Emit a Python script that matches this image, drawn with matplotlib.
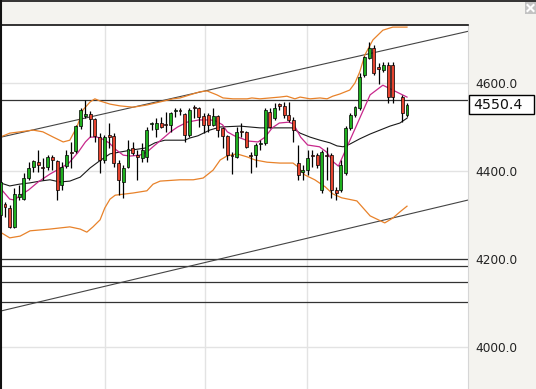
import matplotlib
matplotlib.use("Agg")
import matplotlib.pyplot as plt
from matplotlib.patches import Rectangle
from matplotlib.lines import Line2D
from matplotlib.ticker import FormatStrFormatter

# Daily candles (index -1 is cut by the left edge, index 83 is a missing day)
candle_idx = list(range(-1, 83)) + [84, 85]
opens = [4300, 4325, 4316, 4273, 4341, 4336, 4384, 4409, 4420, 4409,
         4409, 4432, 4423, 4368, 4411, 4443, 4445, 4502, 4525, 4530,
         4518, 4477, 4425, 4482, 4480, 4418, 4375, 4409, 4452, 4436,
         4430, 4432, 4507, 4495, 4509, 4507, 4505, 4536, 4539, 4530,
         4482, 4545, 4543, 4525, 4527, 4505, 4525, 4498, 4480, 4436,
         4432, 4491, 4489, 4436, 4436, 4461, 4464, 4534, 4520, 4552,
         4548, 4527, 4516, 4418, 4398, 4402, 4436, 4436, 4357, 4436,
         4436, 4357, 4357, 4395, 4498, 4527, 4543, 4618, 4657, 4680,
         4636, 4630, 4641, 4641, 4568, 4527]
highs = [4402, 4330, 4323, 4361, 4368, 4395, 4420, 4425, 4448, 4430,
         4436, 4436, 4425, 4420, 4448, 4466, 4505, 4543, 4561, 4536,
         4520, 4486, 4482, 4509, 4486, 4425, 4414, 4470, 4466, 4448,
         4464, 4500, 4511, 4520, 4523, 4534, 4534, 4543, 4543, 4532,
         4543, 4550, 4545, 4532, 4532, 4543, 4527, 4500, 4482, 4443,
         4500, 4509, 4491, 4443, 4464, 4470, 4543, 4543, 4555, 4555,
         4557, 4557, 4523, 4459, 4414, 4448, 4448, 4441, 4448, 4455,
         4441, 4364, 4425, 4502, 4532, 4548, 4623, 4661, 4693, 4686,
         4645, 4648, 4648, 4648, 4573, 4555]
lows = [4289, 4295, 4271, 4271, 4334, 4334, 4380, 4398, 4398, 4380,
        4402, 4402, 4334, 4357, 4407, 4407, 4441, 4495, 4520, 4477,
        4466, 4395, 4418, 4452, 4409, 4345, 4339, 4407, 4436, 4380,
        4420, 4420, 4493, 4477, 4498, 4489, 4489, 4523, 4527, 4466,
        4477, 4520, 4500, 4486, 4489, 4502, 4477, 4452, 4425, 4393,
        4430, 4477, 4452, 4395, 4409, 4448, 4459, 4498, 4516, 4539,
        4520, 4511, 4466, 4380, 4380, 4391, 4409, 4407, 4350, 4380,
        4339, 4334, 4352, 4391, 4493, 4523, 4539, 4614, 4655, 4618,
        4598, 4625, 4555, 4555, 4511, 4523]
closes = [4375, 4318, 4273, 4348, 4348, 4384, 4407, 4423, 4414, 4407,
          4432, 4425, 4357, 4409, 4436, 4441, 4502, 4539, 4530, 4518,
          4480, 4425, 4477, 4477, 4418, 4380, 4407, 4450, 4441, 4432,
          4448, 4493, 4509, 4509, 4500, 4505, 4532, 4539, 4536, 4482,
          4539, 4543, 4523, 4505, 4505, 4525, 4493, 4480, 4436, 4434,
          4489, 4489, 4455, 4434, 4459, 4464, 4539, 4500, 4543, 4548,
          4527, 4516, 4493, 4391, 4402, 4430, 4434, 4414, 4443, 4434,
          4357, 4350, 4414, 4498, 4527, 4545, 4614, 4659, 4680, 4623,
          4632, 4641, 4568, 4568, 4532, 4550.4]
last_price = 4550.4

# Short moving average (magenta)
ma_fast_idx = [-1, 1, 2, 3, 5, 7, 9.5, 11.5, 13.5, 15.5, 17, 18, 19.5, 20.5,
               22, 23.5, 25, 26.5, 28.5, 30, 31.5, 33.5, 35, 36.5, 38.5, 41,
               43.5, 44.5, 46, 47, 48.5, 51.5, 53.5, 55, 56.5, 58, 60, 61,
               62.5, 64, 66.5, 68, 69.5, 70.5, 77.2, 79.9, 85]
ma_fast = [4361, 4336, 4334, 4343, 4357, 4375, 4393, 4405, 4418, 4443, 4466,
           4477, 4477, 4473, 4464, 4448, 4436, 4434, 4436, 4443, 4457, 4475,
           4489, 4500, 4511, 4516, 4516, 4514, 4505, 4489, 4480, 4468, 4466,
           4477, 4498, 4509, 4511, 4507, 4477, 4459, 4455, 4443, 4420, 4411,
           4573, 4595, 4568]

# Longer moving average (black)
ma_slow_idx = [-1, 1, 3, 5.3, 7.4, 9.5, 11.6, 13.7, 15.9, 18, 20, 22.2, 24.3,
               27, 29.6, 31.7, 33.8, 36.6, 38, 39.1, 40.8, 43.3, 45.5, 49.7,
               53.9, 58.1, 60.7, 62.4, 64.5, 66.6, 68.7, 70.2, 71.5, 72.9, 75,
               77.2, 79.3, 81.4, 83.5, 85]
ma_slow = [4373, 4366, 4370, 4373, 4377, 4380, 4375, 4377, 4386, 4407, 4423,
           4439, 4443, 4448, 4452, 4464, 4470, 4470, 4470, 4475, 4480, 4493,
           4500, 4502, 4498, 4498, 4498, 4486, 4477, 4470, 4464, 4457, 4455,
           4461, 4473, 4484, 4493, 4502, 4509, 4520]

# Bollinger bands (orange)
band_up_idx = [-1, 1, 3.2, 5.9, 8, 10.2, 12.3, 13.7, 15.2, 16.5, 18, 19, 20.1,
               22.2, 24.3, 27.1, 30, 32.8, 35.5, 37, 39.1, 41.2, 42.7, 44.8,
               46.1, 48.2, 51.2, 52.2, 53.9, 56, 58.1, 59.6, 61.3, 62.4, 64.5,
               66.6, 68.1, 69.3, 70.8, 72.9, 74, 75, 76.1, 77.8, 79.9, 82, 85]
band_up = [4477, 4486, 4489, 4493, 4489, 4477, 4466, 4470, 4500, 4539, 4557,
           4564, 4559, 4552, 4548, 4545, 4550, 4557, 4564, 4566, 4573, 4580,
           4582, 4573, 4566, 4564, 4564, 4566, 4564, 4566, 4568, 4570, 4564,
           4568, 4564, 4566, 4564, 4570, 4575, 4584, 4600, 4625, 4664, 4698,
           4720, 4727, 4727]
band_lo_idx = [-1, 1, 3.2, 5.3, 9.5, 13.7, 15.9, 17.3, 18.6, 20.1, 21.1, 22.2,
               23.3, 27.1, 30, 31.3, 32.8, 37, 39.8, 41.9, 44, 45.5, 46.9, 49,
               51.2, 52.9, 55.4, 58.1, 60.9, 62, 63.4, 65.5, 67.7, 69.3, 71.2,
               74.4, 77.2, 80.3, 82, 83.5, 85]
band_lo = [4261, 4248, 4252, 4264, 4268, 4273, 4268, 4261, 4273, 4289, 4316,
           4336, 4345, 4350, 4355, 4370, 4377, 4380, 4380, 4384, 4402, 4425,
           4434, 4439, 4432, 4425, 4420, 4418, 4418, 4409, 4391, 4380, 4364,
           4348, 4339, 4332, 4298, 4282, 4293, 4307, 4320]

# Channel lines (two anchor points each) and horizontal levels
channel_up = ([0, 85], [4479, 4686])
channel_lo = ([0, 85], [4084, 4301])
levels = [4561.4, 4200.0, 4183.4, 4147.0, 4101.6]

grid_prices = [4000, 4200, 4400, 4600]
month_marks = [21.1, 42.3, 63.8]

W, H = 536, 389
fig = plt.figure(figsize=(W / 100, H / 100), dpi=100)
fig.patch.set_facecolor('#f4f3ef')
ax = fig.add_axes([1 / W, 0, 467 / W, 364 / H])
ax.set_facecolor('white')
ax.set_xlim(-0.85, 97.9)
ax.set_ylim(3904.5, 4731.8)

# grid and right-hand price scale
ax.set_yticks(grid_prices)
ax.set_xticks(month_marks)
ax.grid(True, color='#e3e3e3', lw=1)
ax.set_axisbelow(True)
ax.tick_params(axis='x', length=0, labelbottom=False)
ax.yaxis.tick_right()
ax.yaxis.set_major_formatter(FormatStrFormatter('%.1f'))
ax.tick_params(axis='y', length=0, pad=5, labelsize=8.7, labelcolor='#222222')
ax.spines['bottom'].set_visible(False)
ax.spines['left'].set_color('#111111')
ax.spines['left'].set_linewidth(1.5)
ax.spines['top'].set_color('#111111')
ax.spines['top'].set_linewidth(1.2)
ax.spines['right'].set_color('#d6d6d6')

# support / resistance lines
for lv in levels:
    ax.axhline(lv, color='#333333', lw=0.9, zorder=2)
ax.axline((channel_up[0][0], channel_up[1][0]), (channel_up[0][1], channel_up[1][1]),
          color='#444444', lw=0.8, zorder=2)
ax.axline((channel_lo[0][0], channel_lo[1][0]), (channel_lo[0][1], channel_lo[1][1]),
          color='#444444', lw=0.8, zorder=2)

# indicators
ax.plot(band_up_idx, band_up, color='#e8822a', lw=0.9, zorder=2)
ax.plot(band_lo_idx, band_lo, color='#e8822a', lw=0.9, zorder=2)
ax.plot(ma_slow_idx, ma_slow, color='#1a1a1a', lw=0.8, zorder=2)
ax.plot(ma_fast_idx, ma_fast, color='#c8288c', lw=0.9, zorder=2)

# candles
ax.vlines(candle_idx, lows, highs, colors='black', lw=0.9, zorder=3)
bottoms = [min(o, c) for o, c in zip(opens, closes)]
heights = [max(abs(c - o), 1.5) for o, c in zip(opens, closes)]
colors = ['#1fb01f' if c >= o else '#e5432f' for o, c in zip(opens, closes)]
ax.bar(candle_idx, heights, bottom=bottoms, width=0.62, color=colors,
       edgecolor='black', linewidth=0.5, zorder=4)

# last price box on the scale
trans = ax.get_yaxis_transform()
box_h = 21.6
ax.add_patch(Rectangle((1.002, last_price - box_h), 65 / 467, 2 * box_h,
                       transform=trans, facecolor='white', edgecolor='black',
                       lw=1, clip_on=False, zorder=5))
ax.text(1.0107, last_price, '%.1f' % last_price, transform=trans, ha='left',
        va='center', fontsize=10.2, color='#111111', clip_on=False, zorder=6)

# frame of the top bar and the close button
fig.add_artist(Line2D([0, 1], [1 - 0.5 / H, 1 - 0.5 / H], color='#111111', lw=1.2))
fig.add_artist(Line2D([0.5 / W, 0.5 / W], [364 / H, 1], color='#111111', lw=1.5))
fig.add_artist(Rectangle((525 / W, 1 - 14 / H), 11 / W, 12 / H, facecolor='#c3c3c3',
                         edgecolor='none'))
fig.add_artist(Line2D([527.5 / W, 533.5 / W], [1 - 5 / H, 1 - 11 / H], color='white', lw=1.5))
fig.add_artist(Line2D([527.5 / W, 533.5 / W], [1 - 11 / H, 1 - 5 / H], color='white', lw=1.5))

fig.savefig('out.png', dpi=100)
